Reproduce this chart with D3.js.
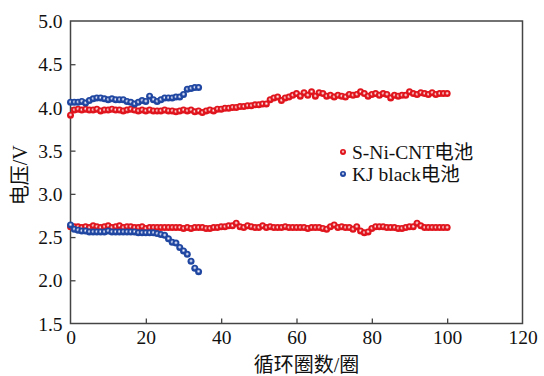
<!DOCTYPE html>
<html>
<head>
<meta charset="utf-8">
<script src="https://cdn.jsdelivr.net/npm/d3@7"></script>
<style>
    body { margin: 0; background: #fff; }
</style>
</head>
<body>
<svg id="chart" width="544" height="376"></svg>
<script>
// cycle data //
// ------------------------------ //
var xTicks = [0, 20, 40, 60, 80, 100, 120],
    yTicks = [1.5, 2.0, 2.5, 3.0, 3.5, 4.0, 4.5, 5.0],
    seriesNames = ["S-Ni-CNT电池", "KJ black电池"];

// S-Ni-CNT, cycles 0..100
var sniCharge = [
    3.91,
    3.97, 3.98, 3.97, 3.98, 3.97, 3.97, 3.98, 3.96, 3.97, 3.97,
    3.98, 3.97, 3.97, 3.96, 3.97, 3.98, 3.97, 3.96, 3.97, 3.96,
    3.97, 3.96, 3.96, 3.96, 3.97, 3.96, 3.96, 3.95, 3.96, 3.97,
    3.96, 3.97, 3.95, 3.96, 3.94, 3.96, 3.97, 3.96, 3.98, 3.98,
    3.99, 3.99, 4.00, 4.00, 4.01, 4.01, 4.02, 4.02, 4.03, 4.03,
    4.04, 4.04, 4.09, 4.11, 4.12, 4.08, 4.11, 4.12, 4.14, 4.16,
    4.13, 4.17, 4.14, 4.18, 4.13, 4.17, 4.16, 4.13, 4.14, 4.12,
    4.14, 4.13, 4.12, 4.15, 4.14, 4.15, 4.18, 4.16, 4.13, 4.15,
    4.16, 4.14, 4.16, 4.15, 4.11, 4.14, 4.13, 4.14, 4.14, 4.18,
    4.16, 4.15, 4.17, 4.16, 4.15, 4.17, 4.15, 4.16, 4.16, 4.16
];
var sniDischarge = [
    2.62,
    2.62, 2.62, 2.61, 2.62, 2.61, 2.63, 2.62, 2.61, 2.62, 2.63,
    2.61, 2.62, 2.63, 2.61, 2.62, 2.62, 2.61, 2.61, 2.62, 2.60,
    2.61, 2.61, 2.61, 2.61, 2.61, 2.61, 2.61, 2.61, 2.61, 2.60,
    2.61, 2.60, 2.61, 2.61, 2.61, 2.60, 2.60, 2.61, 2.61, 2.62,
    2.62, 2.63, 2.63, 2.66, 2.62, 2.61, 2.63, 2.62, 2.61, 2.61,
    2.63, 2.61, 2.62, 2.61, 2.61, 2.61, 2.62, 2.61, 2.61, 2.61,
    2.61, 2.61, 2.60, 2.61, 2.61, 2.61, 2.60, 2.59, 2.62, 2.64,
    2.61, 2.62, 2.61, 2.61, 2.59, 2.62, 2.57, 2.55, 2.56, 2.60,
    2.62, 2.62, 2.62, 2.61, 2.61, 2.61, 2.60, 2.60, 2.61, 2.62,
    2.62, 2.66, 2.63, 2.61, 2.61, 2.61, 2.61, 2.61, 2.61, 2.61
];

// KJ black, cycles 0..34
var kjCharge = [
    4.06, 4.06, 4.06, 4.07, 4.05, 4.08, 4.10, 4.11, 4.11, 4.10,
    4.09, 4.10, 4.09, 4.09, 4.09, 4.07, 4.06, 4.04, 4.06, 4.08,
    4.07, 4.13, 4.09, 4.07, 4.09, 4.11, 4.11, 4.11, 4.12, 4.12,
    4.15, 4.21, 4.22, 4.23, 4.23
];
var kjDischarge = [
    2.64, 2.59, 2.58, 2.57, 2.57, 2.56, 2.56, 2.56, 2.56, 2.56,
    2.57, 2.56, 2.56, 2.56, 2.56, 2.56, 2.56, 2.56, 2.55, 2.55,
    2.55, 2.55, 2.55, 2.54, 2.53, 2.52, 2.48, 2.44, 2.43, 2.38,
    2.34, 2.30, 2.22, 2.14, 2.10
];

var FONT = "'Liberation Serif', 'Noto Sans CJK SC', serif";

var svg = d3.select("#chart"),
    margin = {left: 70.5, right: 21.5, top: 21, bottom: 52.5},
    width = 544 - margin.left - margin.right,
    height = 376 - margin.top - margin.bottom,
    g = svg.append("g").attr("transform", "translate(" + margin.left + "," + margin.top + ")");

var x = d3.scaleLinear().domain([0, 120]).range([0, width]),
    y = d3.scaleLinear().domain([1.5, 5.0]).range([height, 0]);

// shaded marker fills //
var defs = svg.append("defs");
function ball(id, dark, light) {
    var grad = defs.append("radialGradient").attr("id", id)
        .attr("cx", "50%").attr("cy", "45%").attr("r", "55%");
    grad.append("stop").attr("offset", "0%").attr("stop-color", "#fff");
    grad.append("stop").attr("offset", "22%").attr("stop-color", light);
    grad.append("stop").attr("offset", "50%").attr("stop-color", dark);
    grad.append("stop").attr("offset", "100%").attr("stop-color", dark);
}
ball("redBall", "#e0141c", "#f2a0a3");
ball("blueBall", "#1f46a0", "#a8b6e0");

var frameColor = "#444";

// axes (ticks point inwards) //
var xAxis = g.append("g").attr("transform", "translate(0," + height + ")")
    .call(d3.axisBottom(x).tickValues(xTicks).tickSizeInner(-5).tickSizeOuter(0).tickPadding(7));
var yAxis = g.append("g")
    .call(d3.axisLeft(y).tickValues(yTicks).tickFormat(d3.format(".1f")).tickSizeInner(-5).tickSizeOuter(0).tickPadding(8));

[xAxis, yAxis].forEach(function (a) {
    a.attr("font-family", null).attr("font-size", null);
    a.select(".domain").remove();
    a.selectAll(".tick line").attr("stroke", frameColor).attr("stroke-width", 1.3);
    a.selectAll(".tick text")
        .style("font-family", FONT).style("font-size", "19.5px").attr("fill", "#111");
});
yAxis.selectAll(".tick text").attr("dy", "0.34em");
// drop the inward ticks that sit on the frame corners
xAxis.selectAll(".tick line").filter(function (d) { return d === 0 || d === 120; }).remove();
yAxis.selectAll(".tick line").filter(function (d) { return d === 1.5 || d === 5.0; }).remove();

g.append("rect")
    .attr("width", width).attr("height", height)
    .attr("fill", "none").attr("stroke", frameColor).attr("stroke-width", 1.5);

// markers //
var marks = [
    {vals: sniCharge, fill: "url(#redBall)"},
    {vals: sniDischarge, fill: "url(#redBall)"},
    {vals: kjCharge, fill: "url(#blueBall)"},
    {vals: kjDischarge, fill: "url(#blueBall)"}
];
marks.forEach(function (m) {
    g.append("g").selectAll("circle")
        .data(m.vals)
        .enter()
        .append("circle")
        .attr("cx", function (d, i) { return x(i); })
        .attr("cy", function (d) { return y(d); })
        .attr("r", 3.5)
        .attr("fill", m.fill);
});

// legend //
var legend = g.append("g").attr("transform", "translate(" + (343 - margin.left) + "," + (152 - margin.top) + ")");
seriesNames.forEach(function (name, i) {
    var row = legend.append("g").attr("transform", "translate(0," + (i * 22) + ")");
    row.append("circle").attr("r", 3).attr("fill", i === 0 ? "url(#redBall)" : "url(#blueBall)");
    row.append("text").attr("x", 9).attr("y", 6.5)
        .style("font-family", FONT).style("font-size", "19.5px").attr("fill", "#111")
        .text(name);
});

// axis titles //
svg.append("text")
    .attr("x", margin.left + width / 2 + 10).attr("y", 372)
    .attr("text-anchor", "middle")
    .style("font-family", FONT).style("font-size", "20px").attr("fill", "#111")
    .text("循环圈数/圈");
svg.append("text")
    .attr("transform", "translate(27," + (margin.top + height / 2 + 3) + ") rotate(-90)")
    .attr("text-anchor", "middle")
    .style("font-family", FONT).style("font-size", "20px").attr("fill", "#111")
    .text("电压/V");
</script>
</body>
</html>
